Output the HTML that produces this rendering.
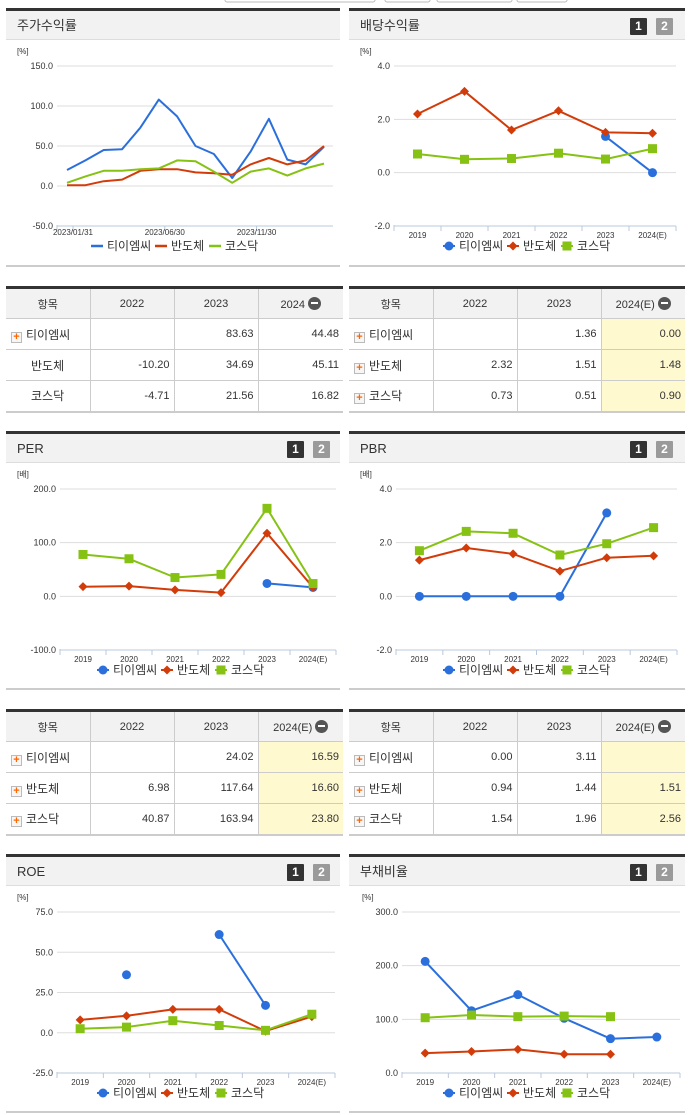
<!DOCTYPE html>
<html><head><meta charset="utf-8">
<style>
*{box-sizing:border-box;margin:0;padding:0}
body{width:691px;height:1115px;background:#fff;position:relative;overflow:hidden;font-family:"Liberation Sans","Noto Sans CJK KR",sans-serif;color:#333}
.hdr{position:absolute;height:32px;background:#f2f2f2;border-top:3px solid #333;border-bottom:1px solid #ddd;font-size:13px;line-height:29px;padding-left:11px;color:#333}
.btn{position:absolute;top:7px;width:17px;height:17px;color:#fff;font-weight:bold;font-size:12px;line-height:17px;text-align:center;border-radius:1px}
.b1{background:#333}.b2{background:#9a9a9a}
.foot{position:absolute;height:2px;background:#ccc}
table{position:absolute;border-collapse:collapse;font-size:11px;border-top:3px solid #333;border-bottom:2px solid #ccc}
td,th{height:31px;border:1px solid #ccc;border-top:none}
tr td:first-child,tr th:first-child{border-left:none}
tr td:last-child,tr th:last-child{border-right:none}
th{background:#f2f2f2;font-weight:normal;font-size:11px;text-align:center}
td{text-align:right;padding-right:4px}
td.n{text-align:left;padding-left:5px;font-size:12px}
td.y{background:#fff9d0}
.pl{display:inline-block;width:11px;height:11px;border:1px solid #bbb;background:#f6f6f6;color:#f60;font-size:11px;line-height:9px;text-align:center;font-weight:bold;margin-right:4px;vertical-align:-1px}
.mi{display:inline-block;width:13px;height:13px;border-radius:50%;background:#555;vertical-align:-2px;margin-left:3px;position:relative}
.mi:after{content:"";position:absolute;left:3px;top:5.5px;width:7px;height:2px;background:#fff}
</style></head><body>
<svg id="top" width="691" height="4" style="position:absolute;left:0;top:0">
<rect x="225" y="-4" width="150" height="6" rx="2" fill="#fff" stroke="#bbb"/><rect x="385" y="-4" width="45" height="6" rx="2" fill="#fff" stroke="#bbb"/><rect x="437" y="-4" width="75" height="6" rx="2" fill="#fff" stroke="#bbb"/><rect x="517" y="-4" width="50" height="6" rx="2" fill="#fff" stroke="#bbb"/>
</svg>

<div class="hdr" style="left:6px;top:8px;width:334px">주가수익률</div>
<div class="hdr" style="left:349px;top:8px;width:336px">배당수익률<span class="btn b1" style="left:281px">1</span><span class="btn b2" style="left:307px">2</span></div>
<div class="hdr" style="left:6px;top:431px;width:334px">PER<span class="btn b1" style="left:281px">1</span><span class="btn b2" style="left:307px">2</span></div>
<div class="hdr" style="left:349px;top:431px;width:336px">PBR<span class="btn b1" style="left:281px">1</span><span class="btn b2" style="left:307px">2</span></div>
<div class="hdr" style="left:6px;top:854px;width:334px">ROE<span class="btn b1" style="left:281px">1</span><span class="btn b2" style="left:307px">2</span></div>
<div class="hdr" style="left:349px;top:854px;width:336px">부채비율<span class="btn b1" style="left:281px">1</span><span class="btn b2" style="left:307px">2</span></div>

<div class="foot" style="left:6px;top:265px;width:334px"></div>
<div class="foot" style="left:349px;top:265px;width:336px"></div>
<div class="foot" style="left:6px;top:688px;width:334px"></div>
<div class="foot" style="left:349px;top:688px;width:336px"></div>
<div class="foot" style="left:6px;top:1111px;width:334px"></div>
<div class="foot" style="left:349px;top:1111px;width:336px"></div>

<table style="left:6px;top:286px;width:337px">
<tr><th style="width:84px">항목</th><th style="width:84px">2022</th><th style="width:84px">2023</th><th>2024<span class="mi"></span></th></tr>
<tr><td class="n"><span class="pl">+</span>티이엠씨</td><td></td><td>83.63</td><td>44.48</td></tr>
<tr><td class="n" style="padding-left:25px">반도체</td><td>-10.20</td><td>34.69</td><td>45.11</td></tr>
<tr><td class="n" style="padding-left:25px">코스닥</td><td>-4.71</td><td>21.56</td><td>16.82</td></tr>
</table>
<table style="left:349px;top:286px;width:336px">
<tr><th style="width:84px">항목</th><th style="width:84px">2022</th><th style="width:84px">2023</th><th>2024(E)<span class="mi"></span></th></tr>
<tr><td class="n"><span class="pl">+</span>티이엠씨</td><td></td><td>1.36</td><td class="y">0.00</td></tr>
<tr><td class="n"><span class="pl">+</span>반도체</td><td>2.32</td><td>1.51</td><td class="y">1.48</td></tr>
<tr><td class="n"><span class="pl">+</span>코스닥</td><td>0.73</td><td>0.51</td><td class="y">0.90</td></tr>
</table>
<table style="left:6px;top:709px;width:337px">
<tr><th style="width:84px">항목</th><th style="width:84px">2022</th><th style="width:84px">2023</th><th class="y" style="background:#f2f2f2">2024(E)<span class="mi"></span></th></tr>
<tr><td class="n"><span class="pl">+</span>티이엠씨</td><td></td><td>24.02</td><td class="y">16.59</td></tr>
<tr><td class="n"><span class="pl">+</span>반도체</td><td>6.98</td><td>117.64</td><td class="y">16.60</td></tr>
<tr><td class="n"><span class="pl">+</span>코스닥</td><td>40.87</td><td>163.94</td><td class="y">23.80</td></tr>
</table>
<table style="left:349px;top:709px;width:336px">
<tr><th style="width:84px">항목</th><th style="width:84px">2022</th><th style="width:84px">2023</th><th>2024(E)<span class="mi"></span></th></tr>
<tr><td class="n"><span class="pl">+</span>티이엠씨</td><td>0.00</td><td>3.11</td><td class="y"></td></tr>
<tr><td class="n"><span class="pl">+</span>반도체</td><td>0.94</td><td>1.44</td><td class="y">1.51</td></tr>
<tr><td class="n"><span class="pl">+</span>코스닥</td><td>1.54</td><td>1.96</td><td class="y">2.56</td></tr>
</table>

<svg id="charts" width="691" height="1115" style="position:absolute;left:0;top:0;pointer-events:none"></svg>

<script>
// ---- data ----
const years = ["2019","2020","2021","2022","2023","2024(E)"];
const names = ["티이엠씨","반도체","코스닥"];
const stockBlue  = [20,32,45,46,73,108,87,50,40,10,43,84,33,27,49];
const stockRed   = [1,1,6,8,19,21,21,17,16,14,27,35,27,32,50];
const stockGreen = [4,12,19,19,21,22,32,31,18,4,18,22,13,22,28];
const stockTicks = [150,100,50,0,-50];
const stockDateLabels = ["2023/01/31","2023/06/30","2023/11/30"];
const divBlue  = [null,null,null,null,1.36,0.00];
const divRed   = [2.2,3.05,1.6,2.32,1.51,1.48];
const divGreen = [0.7,0.5,0.53,0.73,0.51,0.90];
const divTicks = [4,2,0,-2];
const perBlue  = [null,null,null,null,24.02,16.59];
const perRed   = [18,19,12,6.98,117.64,16.60];
const perGreen = [78,70,35,40.87,163.94,23.80];
const perTicks = [200,100,0,-100];
const pbrBlue  = [0,0,0,0,3.11,null];
const pbrRed   = [1.35,1.8,1.58,0.94,1.44,1.51];
const pbrGreen = [1.7,2.42,2.35,1.54,1.96,2.56];
const pbrTicks = [4,2,0,-2];
const roeBlue  = [null,36,null,61,17,null];
const roeRed   = [8,10.5,14.5,14.5,1,10];
const roeGreen = [2.5,3.5,7.5,4.5,1.5,11.5];
const roeTicks = [75,50,25,0,-25];
const debtBlue  = [208,116,146,102,64,67];
const debtRed   = [37,40,44,35,35,null];
const debtGreen = [103,108,105,106,105,null];
const debtTicks = [300,200,100,0];

const COL = ["#2a6fdb","#d23c0a","#86c214"];
const svg = document.getElementById('charts');
const NS = "http://www.w3.org/2000/svg";
function mk(tag, at, parent){const e=document.createElementNS(NS,tag);for(const k in at)e.setAttribute(k,at[k]);(parent||svg).appendChild(e);return e;}
function txt(x,y,s,at){const e=mk('text',Object.assign({x:x,y:y,'font-size':9,fill:'#333','font-family':'Liberation Sans, Noto Sans CJK KR, sans-serif'},at||{}));e.textContent=s;return e;}

function marker(g,i,x,y){
  if(i===0){const m=mk('circle',{cx:x,cy:y,r:4.5,fill:COL[0]},g);}
  else if(i===1){const m=mk('path',{d:`M${x},${y-4.5}L${x+4.5},${y}L${x},${y+4.5}L${x-4.5},${y}Z`,fill:COL[1]},g);}
  else {const m=mk('rect',{x:x-4.5,y:y-4.5,width:9,height:9,fill:COL[2]},g);}
}

function chart(o){
  const g=mk('g',{});
  
  
  const tmax=o.ticks[0], tmin=o.ticks[o.ticks.length-1];
  const ys=v=>o.yTop+(tmax-v)/(tmax-tmin)*(o.yBot-o.yTop);
  txt(o.unitX,o.yTop-12,o.unit,{'font-size':8});
  o.ticks.forEach(t=>{
    const y=ys(t);
    if(t!==tmin){const l=mk('line',{x1:o.L,x2:o.R,y1:y,y2:y,stroke:'#ddd'},g);}
    const tl=txt(o.L-4,y+3,t.toFixed(1),{'text-anchor':'end'});
    
  });
  mk('line',{x1:o.L,x2:o.R,y1:o.yBot,y2:o.yBot,stroke:'#b8c8dc'},g);
  mk('line',{x1:o.L,x2:o.L,y1:o.yBot-1,y2:o.yBot+5,stroke:'#b8c8dc'},g);
  let xs;
  if(o.daily){
    const n=o.series[0].length;
    xs=i=>o.x0+i*(o.x1-o.x0)/(n-1);
    o.labelIdx.forEach((li,k)=>{const x=xs(li)+6;mk('line',{x1:x,x2:x,y1:o.yBot,y2:o.yBot+5,stroke:'#b8c8dc'},g);
      const tl=txt(x,o.yBot+9,o.labels[k],{'text-anchor':'middle','font-size':8});});
  } else {
    const n=o.cats.length, w=(o.R-o.L)/n;
    xs=i=>o.L+w*(i+0.5);
    for(let i=1;i<=n;i++){const x=o.L+w*i;mk('line',{x1:x,x2:x,y1:o.yBot,y2:o.yBot+5,stroke:'#b8c8dc'},g);}
    o.cats.forEach((c,i)=>{const tl=txt(xs(i),o.yBot+12,c,{'text-anchor':'middle','font-size':8});});
  }
  o.series.forEach((s,si)=>{
    let d='',prev=false;
    s.forEach((v,i)=>{if(v===null){prev=false;return;}d+=(prev?'L':'M')+xs(i).toFixed(1)+','+ys(v).toFixed(1);prev=true;});
    const p=mk('path',{d:d,fill:'none',stroke:COL[si],'stroke-width':2,'stroke-linejoin':'round'},g);
    
    if(!o.daily) s.forEach((v,i)=>{if(v!==null)marker(g,si,xs(i),ys(v));});
  });
  // legend
  const ly=o.yBot+24, cx=o.cx;
  let x=cx-75;
  names.forEach((nm,i)=>{
    const lg=mk('g',{},g);
    if(o.daily){mk('line',{x1:x,x2:x+12,y1:ly-4,y2:ly-4,stroke:COL[i],'stroke-width':2.5},lg);}
    else{mk('line',{x1:x,x2:x+12,y1:ly-4,y2:ly-4,stroke:COL[i],'stroke-width':2},lg);marker(lg,i,x+6,ly-4);}
    txt(x+16,ly,nm,{'font-size':12,fill:'#333'}).parentNode!==lg && lg.appendChild(svg.lastChild);
    x+= i===0?64:54;
  });
}

chart({name:'stock-return-chart',L:57,R:333,yTop:66,yBot:226,ticks:stockTicks,unit:'[%]',unitX:17,daily:true,x0:67,x1:324,
  labelIdx:[0,5,10],labels:stockDateLabels,series:[stockBlue,stockRed,stockGreen],cx:166});
chart({name:'dividend-chart',L:394,R:676,yTop:66,yBot:226,ticks:divTicks,unit:'[%]',unitX:360,cats:years,series:[divBlue,divRed,divGreen],cx:518});
chart({name:'per-chart',L:60,R:336,yTop:489,yBot:650,ticks:perTicks,unit:'[배]',unitX:17,cats:years,series:[perBlue,perRed,perGreen],cx:172});
chart({name:'pbr-chart',L:396,R:677,yTop:489,yBot:650,ticks:pbrTicks,unit:'[배]',unitX:360,cats:years,series:[pbrBlue,pbrRed,pbrGreen],cx:518});
chart({name:'roe-chart',L:57,R:335,yTop:912,yBot:1073,ticks:roeTicks,unit:'[%]',unitX:17,cats:years,series:[roeBlue,roeRed,roeGreen],cx:172});
chart({name:'debt-ratio-chart',L:402,R:680,yTop:912,yBot:1073,ticks:debtTicks,unit:'[%]',unitX:362,cats:years,series:[debtBlue,debtRed,debtGreen],cx:518});
</script>
</body></html>
